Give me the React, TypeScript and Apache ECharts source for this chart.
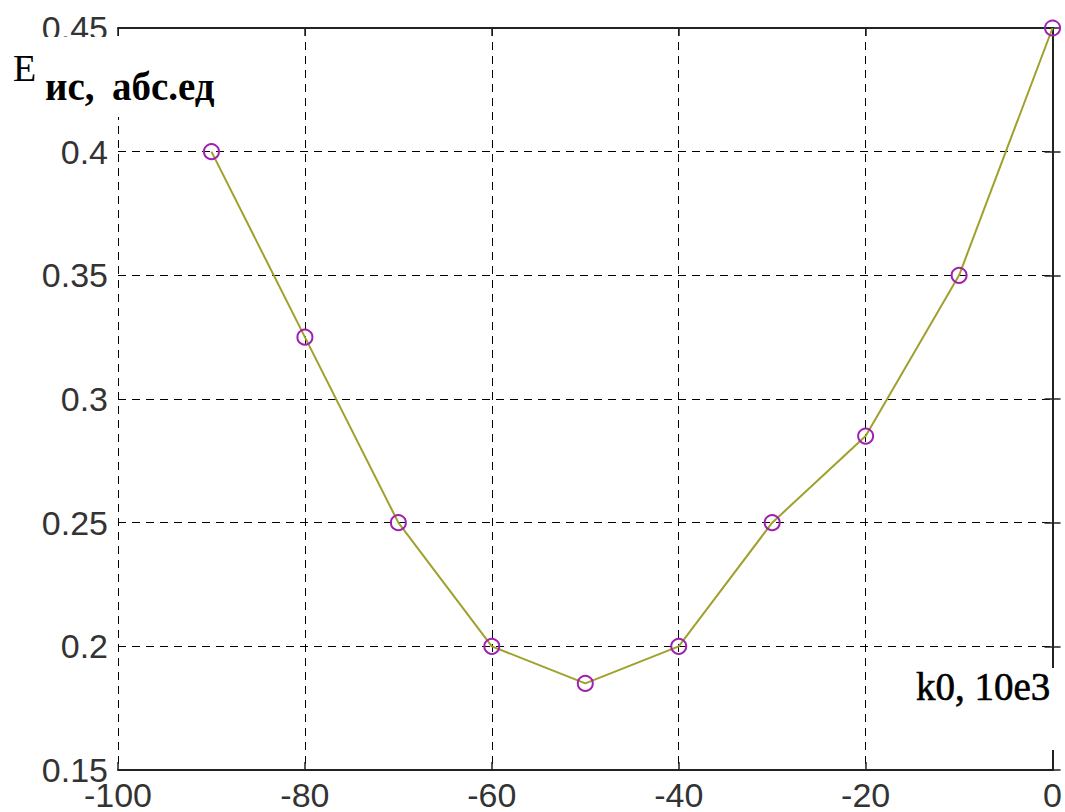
import React, { useEffect, useRef } from "react";
import * as echarts from "echarts";

const kValues = [-90, -80, -70, -60, -50, -40, -30, -20, -10, 0];
const eValues = [0.4, 0.325, 0.25, 0.2, 0.185, 0.2, 0.25, 0.285, 0.35, 0.45];
const xTicks = { min: -100, max: 0, interval: 20 };
const yTicks = { min: 0.15, max: 0.45, interval: 0.05 };
const yTitleMain = "E";
const yTitleSub1 = "ис,";
const yTitleSub2 = "абс.ед";
const xTitle = "k0, 10e3";

export default function App() {
  const ref = useRef<HTMLDivElement>(null);
  useEffect(() => {
    if (!ref.current) return;
    const chart = echarts.init(ref.current, null, { renderer: "svg" });
    const axisLine = { show: true, lineStyle: { color: "#222", width: 2 } };
    const tick = { show: true, inside: true, length: 8, lineStyle: { color: "#222", width: 1.5 } };
    const labelStyle = {
      fontFamily: "Liberation Sans, Arial, sans-serif",
      fontSize: 34,
      color: "#333",
    };
    const split = { show: true, lineStyle: { color: "#000", type: [8, 6], width: 1 } };
    const serif = "'Liberation Serif', 'Times New Roman', serif";
    chart.setOption({
      animation: false,
      backgroundColor: "#fff",
      grid: { left: 118, right: 10, top: 28, bottom: 42, containLabel: false },
      xAxis: [
        {
          type: "value",
          position: "bottom",
          ...xTicks,
          axisLine,
          axisTick: tick,
          splitLine: split,
          axisLabel: { ...labelStyle, margin: 8 },
        },
        {
          type: "value",
          position: "top",
          ...xTicks,
          axisLine,
          axisTick: tick,
          splitLine: { show: false },
          axisLabel: { show: false },
        },
      ],
      yAxis: [
        {
          type: "value",
          position: "left",
          ...yTicks,
          axisLine,
          axisTick: tick,
          splitLine: split,
          axisLabel: {
            ...labelStyle,
            margin: 10,
            formatter: (v: number) => String(+v.toFixed(2)),
          },
        },
        {
          type: "value",
          position: "right",
          ...yTicks,
          axisLine,
          axisTick: tick,
          splitLine: { show: false },
          axisLabel: { show: false },
        },
      ],
      series: [
        {
          type: "line",
          data: kValues.map((k, i) => [k, eValues[i]]),
          lineStyle: { color: "#a0a02c", width: 2 },
          symbol: "circle",
          symbolSize: 15,
          itemStyle: { color: "rgba(0,0,0,0)", borderColor: "#a020b0", borderWidth: 2 },
          z: 5,
        },
      ],
      graphic: [
        { type: "rect", shape: { x: 10, y: 37, width: 218, height: 80 }, style: { fill: "#fff" }, z: 50 },
        { type: "rect", shape: { x: 880, y: 668, width: 180, height: 82 }, style: { fill: "#fff" }, z: 50 },
        {
          type: "text",
          x: 13,
          y: 49,
          z: 60,
          style: { text: yTitleMain, font: `normal 38px ${serif}`, fill: "#000" },
        },
        {
          type: "text",
          x: 45,
          y: 67,
          z: 60,
          style: { text: yTitleSub1, font: `bold 39px ${serif}`, fill: "#000" },
        },
        {
          type: "text",
          x: 112,
          y: 67,
          z: 60,
          style: { text: yTitleSub2, font: `bold 39px ${serif}`, fill: "#000" },
        },
        {
          type: "text",
          x: 916,
          y: 667,
          z: 60,
          style: { text: xTitle, font: `normal 39px ${serif}`, fill: "#000", stroke: "#000", lineWidth: 0.6 },
        },
      ],
    });
    return () => chart.dispose();
  }, []);
  return <div ref={ref} style={{ position: "fixed", left: 0, top: 0, width: 1065, height: 812 }} />;
}
